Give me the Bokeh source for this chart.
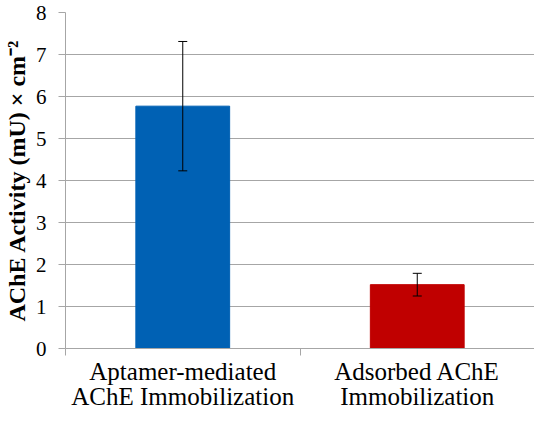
from bokeh.plotting import figure
from bokeh.models import ColumnDataSource, FixedTicker, Whisker, TeeHead, Range1d
from bokeh.embed import file_html
from bokeh.resources import INLINE

# data
categories = ["Aptamer-mediated\nAChE Immobilization", "Adsorbed AChE\nImmobilization"]
activity = [5.77, 1.52]
errors = [1.54, 0.27]
bar_colors = ["#0061b4", "#c00000"]
y_ticks = [0, 1, 2, 3, 4, 5, 6, 7, 8]

FONT = "Liberation Serif"
GRAY = "#a6a6a6"

positions = [i + 0.5 for i in range(len(categories))]
bounds = [i for i in range(len(categories) + 1)]
lower = [v - e for v, e in zip(activity, errors)]
upper = [v + e for v, e in zip(activity, errors)]

source = ColumnDataSource(data=dict(x=positions, top=activity, color=bar_colors,
                                    lower=lower, upper=upper))

p = figure(width=534, height=413, x_range=Range1d(0, len(categories)), y_range=Range1d(0, 8),
           output_backend="svg", toolbar_location=None,
           min_border_left=62, min_border_right=0, min_border_top=12, min_border_bottom=60)
p.outline_line_color = None
p.background_fill_color = "white"

p.vbar(x="x", top="top", bottom=0, width=0.4, color="color", source=source)

whisk = Whisker(source=source, base="x", upper="upper", lower="lower",
                line_color="black", line_width=1, level="overlay",
                upper_head=TeeHead(size=9, line_color="black", line_width=1),
                lower_head=TeeHead(size=9, line_color="black", line_width=1))
p.add_layout(whisk)

# x axis: names at bar centres, tick marks at category boundaries
p.xaxis.ticker = FixedTicker(ticks=positions, minor_ticks=bounds)
p.xaxis.major_label_overrides = {pos: lab for pos, lab in zip(positions, categories)}
p.xaxis.major_tick_line_color = None
p.xaxis.major_tick_in = 0
p.xaxis.major_tick_out = 7
p.xaxis.minor_tick_in = 0
p.xaxis.minor_tick_out = 7
p.xaxis.minor_tick_line_color = GRAY
p.xaxis.axis_line_color = GRAY
p.xaxis.major_label_text_font = FONT
p.xaxis.major_label_text_font_size = "25px"
p.xaxis.major_label_text_line_height = 0.95
p.xaxis.major_label_text_color = "black"
p.xaxis.major_label_standoff = 2
p.xgrid.visible = False

# y axis
p.yaxis.ticker = FixedTicker(ticks=y_ticks)
p.yaxis.major_tick_in = 0
p.yaxis.major_tick_out = 7
p.yaxis.major_tick_line_color = GRAY
p.yaxis.minor_tick_line_color = None
p.yaxis.axis_line_color = GRAY
p.yaxis.major_label_text_font = FONT
p.yaxis.major_label_text_font_size = "21px"
p.yaxis.major_label_text_color = "black"
p.yaxis.major_label_standoff = 12
p.yaxis.axis_label = "AChE Activity (mU) × cm⁻²"
p.yaxis.axis_label_text_font = FONT
p.yaxis.axis_label_text_font_size = "24px"
p.yaxis.axis_label_text_font_style = "bold"
p.yaxis.axis_label_text_color = "black"
p.yaxis.axis_label_standoff = 3
p.ygrid.ticker = FixedTicker(ticks=y_ticks)
p.ygrid.grid_line_color = GRAY

open("out.html", "w").write(file_html(p, INLINE))
